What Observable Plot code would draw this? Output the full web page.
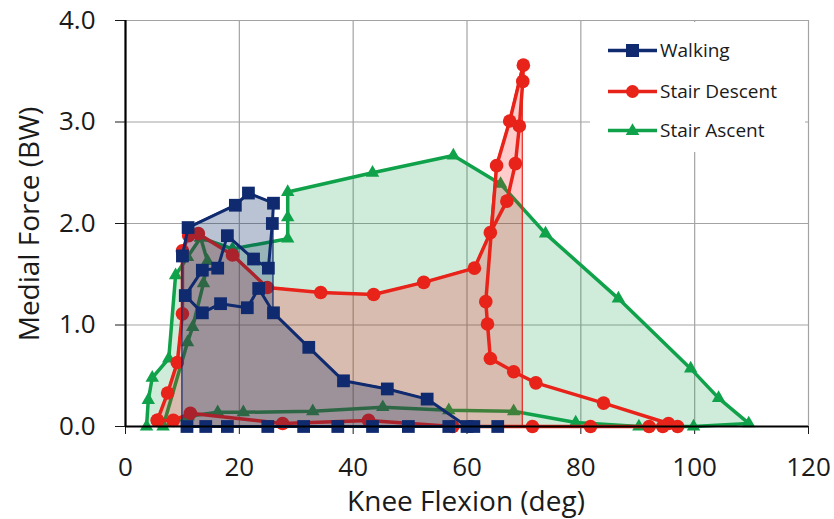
<!DOCTYPE html>
<html>
<head>
<meta charset="utf-8">
<script src="https://cdn.jsdelivr.net/npm/d3@7"></script>
<script src="https://cdn.jsdelivr.net/npm/@observablehq/plot@0.6"></script>
<style>
  body { margin: 0; background: #fff; font-family: "Open Sans", sans-serif; }
  #wrap { position: relative; width: 834px; height: 519px; overflow: hidden; }
  .title { position: absolute; font-size: 28px; line-height: 22px; color: #1a1a1a; white-space: nowrap; }
  #xtitle { left: 466px; top: 489px; transform: translateX(-50%); }
  #ytitle { left: 28px; top: 224px; transform: translate(-50%, -50%) rotate(-90deg); }
  #legend { position: absolute; left: 590px; top: 22px; width: 215px; height: 130px; background: #fff; }
  .item { position: absolute; left: 18px; height: 20px; display: flex; align-items: center; font-size: 19px; color: #1a1a1a; white-space: nowrap; }
  .item svg { margin-right: 2px; }
</style>
</head>
<body>
<div id="wrap"></div>
<script>
// ---- data ----
const xTicks = [0, 20, 40, 60, 80, 100, 120];
const yTicks = [0, 1, 2, 3, 4];

const seriesNames = ["Walking", "Stair Descent", "Stair Ascent"];
const seriesColors = ["#0f2a6e", "#e8231a", "#10a24a"];

// Walking loop (knee flexion deg, medial force BW)
const walkX = [10.0, 11.0, 19.3, 21.6, 26.0, 25.8, 25.1, 22.5, 17.9, 16.2, 13.5, 10.5, 13.5, 16.7, 21.4, 23.4, 26.0, 32.2, 38.3, 46.0, 53.0, 60.0, 65.4, 61.2, 56.8, 49.7, 43.4, 37.3, 31.3, 25.0, 17.9, 14.1, 10.8];
const walkY = [1.68, 1.96, 2.18, 2.30, 2.20, 2.00, 1.56, 1.65, 1.88, 1.56, 1.54, 1.29, 1.12, 1.21, 1.17, 1.36, 1.12, 0.78, 0.45, 0.37, 0.27, 0.00, 0.00, 0.00, 0.00, 0.00, 0.00, 0.00, 0.00, 0.00, 0.00, 0.00, 0.00];
// Walking shaded envelope
const walkFillX = [10.0, 10.0, 11.0, 19.3, 21.6, 26.0, 26.0, 32.2, 38.3, 46.0, 53.0, 60.0];
const walkFillY = [0.00, 1.68, 1.96, 2.18, 2.30, 2.20, 1.12, 0.78, 0.45, 0.37, 0.27, 0.00];

// Stair descent loop
const descX = [5.6, 7.4, 9.1, 10.0, 10.0, 11.1, 12.8, 18.8, 24.9, 34.3, 43.6, 52.4, 61.3, 64.1, 67.0, 68.5, 69.2, 69.8, 69.9, 67.5, 65.2, 63.3, 63.6, 64.1, 68.2, 72.1, 84.0, 95.4, 97.0, 94.4, 92.0, 81.7, 71.5, 57.5, 42.7, 27.6, 11.4, 8.4, 5.6];
const descY = [0.06, 0.33, 0.63, 1.11, 1.73, 1.88, 1.90, 1.69, 1.37, 1.32, 1.30, 1.42, 1.56, 1.91, 2.22, 2.59, 2.96, 3.40, 3.56, 3.01, 2.57, 1.23, 1.01, 0.67, 0.54, 0.43, 0.23, 0.03, 0.00, 0.00, 0.00, 0.00, 0.00, 0.00, 0.06, 0.03, 0.13, 0.06, 0.06];
// Stair descent shaded envelope
const descFillX = [5.6, 7.4, 9.1, 10.0, 10.0, 11.1, 12.8, 18.8, 24.9, 34.3, 43.6, 52.4, 61.3, 64.1, 65.2, 67.5, 69.8, 69.8];
const descFillY = [0.06, 0.33, 0.63, 1.11, 1.73, 1.88, 1.90, 1.69, 1.37, 1.32, 1.30, 1.42, 1.56, 1.91, 2.57, 3.01, 3.56, 0.00];

// Stair ascent loop
const ascX = [3.7, 4.0, 4.7, 7.6, 8.8, 10.9, 13.2, 18.8, 28.5, 28.5, 28.5, 43.4, 57.6, 65.9, 73.8, 86.6, 99.3, 104.2, 109.5, 99.8, 90.2, 79.1, 68.2, 56.8, 45.2, 32.9, 20.7, 16.2, 11.0, 6.6, 10.9, 11.8, 13.7, 14.4, 13.2];
const ascY = [0.00, 0.26, 0.48, 0.67, 1.49, 1.67, 1.86, 1.75, 1.85, 2.06, 2.31, 2.50, 2.67, 2.39, 1.90, 1.26, 0.57, 0.28, 0.03, 0.00, 0.00, 0.04, 0.15, 0.16, 0.19, 0.15, 0.14, 0.14, 0.10, 0.00, 0.83, 0.98, 1.41, 1.63, 1.86];
// Stair ascent shaded envelope
const ascFillX = [3.7, 4.0, 4.7, 7.6, 8.8, 10.9, 13.2, 18.8, 28.5, 28.5, 43.4, 57.6, 65.9, 73.8, 86.6, 99.3, 104.2, 109.5];
const ascFillY = [0.00, 0.26, 0.48, 0.67, 1.49, 1.67, 1.86, 1.75, 1.85, 2.31, 2.50, 2.67, 2.39, 1.90, 1.26, 0.57, 0.28, 0.03];

// ---- build tables ----
const pts = (xs, ys) => xs.map((x, i) => ({x, y: ys[i]}));
const walk = pts(walkX, walkY), walkFill = pts(walkFillX, walkFillY);
const desc = pts(descX, descY), descFill = pts(descFillX, descFillY);
const asc = pts(ascX, ascY), ascFill = pts(ascFillX, ascFillY);

const [cWalk, cDesc, cAsc] = seriesColors;
const grid = "#a3a3a3";

const chart = Plot.plot({
  width: 834,
  height: 519,
  marginLeft: 125,
  marginRight: 26,
  marginTop: 20,
  marginBottom: 93,
  x: {domain: [0, 120], ticks: xTicks, tickSize: 8, tickPadding: 23, label: null},
  y: {domain: [0, 4], ticks: yTicks, tickSize: 10, tickPadding: 20, tickFormat: d => d.toFixed(1), label: null},
  style: {fontFamily: "'Open Sans', sans-serif", fontSize: "26px", color: "#1a1a1a", background: "white", overflow: "visible"},
  marks: [
    Plot.ruleX(xTicks, {x: d => d, stroke: grid, strokeWidth: 1.2}),
    Plot.ruleY(yTicks, {y: d => d, stroke: grid, strokeWidth: 1.2}),
    // stair ascent
    Plot.areaY(ascFill, {x: "x", y1: 0, y2: "y", fill: cAsc, fillOpacity: 0.2}),
    Plot.line(asc, {x: "x", y: "y", stroke: cAsc, strokeWidth: 3.5, curve: "linear"}),
    Plot.dot(asc, {x: "x", y: "y", symbol: "triangle", r: 5, fill: cAsc, stroke: "none"}),
    // stair descent
    Plot.areaY(descFill, {x: "x", y1: 0, y2: "y", fill: "#ff0000", fillOpacity: 0.2, stroke: cDesc, strokeWidth: 1.2}),
    Plot.line(desc, {x: "x", y: "y", stroke: cDesc, strokeWidth: 3.5, curve: "linear"}),
    Plot.dot(desc, {x: "x", y: "y", symbol: "circle", r: 6.8, fill: cDesc, stroke: "none"}),
    // walking
    Plot.areaY(walkFill, {x: "x", y1: 0, y2: "y", fill: "#002060", fillOpacity: 0.27, stroke: cWalk, strokeWidth: 1.2}),
    Plot.line(walk, {x: "x", y: "y", stroke: cWalk, strokeWidth: 3, curve: "linear"}),
    Plot.dot(walk, {x: "x", y: "y", symbol: "square", r: 7.2, fill: cWalk, stroke: "none"}),
    // axes
    Plot.ruleY([0], {y: d => d, stroke: "#000", strokeWidth: 2.2}),
    Plot.ruleX([0], {x: d => d, stroke: "#000", strokeWidth: 2.2})
  ]
});

const wrap = document.getElementById("wrap");
wrap.appendChild(chart);

// axis titles
const xt = document.createElement("div");
xt.className = "title"; xt.id = "xtitle"; xt.textContent = "Knee Flexion (deg)";
wrap.appendChild(xt);
const yt = document.createElement("div");
yt.className = "title"; yt.id = "ytitle"; yt.textContent = "Medial Force (BW)";
wrap.appendChild(yt);

// legend
const legend = document.createElement("div");
legend.id = "legend";
const symbols = ["square", "circle", "triangle"];
const rowTops = [18, 59, 98];
seriesNames.forEach((name, i) => {
  const item = document.createElement("div");
  item.className = "item";
  item.style.top = rowTops[i] + "px";
  const c = seriesColors[i];
  let mk;
  if (symbols[i] === "square") mk = `<rect x="18" y="4" width="13" height="13" fill="${c}"/>`;
  else if (symbols[i] === "circle") mk = `<circle cx="24.5" cy="10.5" r="6.5" fill="${c}"/>`;
  else mk = `<path d="${d3.symbol(d3.symbolTriangle, 80)()}" transform="translate(24.5,11)" fill="${c}"/>`;
  item.innerHTML = `<svg width="50" height="21"><line x1="0" x2="49" y1="10.5" y2="10.5" stroke="${c}" stroke-width="3.5"/>${mk}</svg><span>${name}</span>`;
  legend.appendChild(item);
});
wrap.appendChild(legend);
</script>
</body>
</html>
